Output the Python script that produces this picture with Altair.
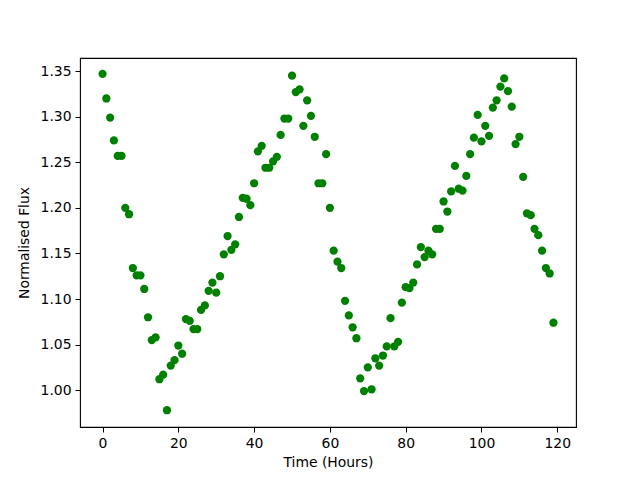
import altair as alt
import pandas as pd

hours = list(range(120))
flux = [
    1.347, 1.320, 1.299, 1.274, 1.257, 1.257, 1.200, 1.193, 1.134, 1.126,
    1.126, 1.111, 1.080, 1.055, 1.058, 1.012, 1.017, 0.978, 1.027, 1.033,
    1.049, 1.040, 1.078, 1.076, 1.067, 1.067, 1.088, 1.093, 1.109, 1.118,
    1.107, 1.125, 1.149, 1.169, 1.154, 1.160, 1.190, 1.211, 1.210, 1.203,
    1.227, 1.262, 1.268, 1.244, 1.244, 1.251, 1.256, 1.280, 1.298, 1.298,
    1.345, 1.327, 1.330, 1.290, 1.318, 1.301, 1.278, 1.227, 1.227, 1.259,
    1.200, 1.153, 1.141, 1.134, 1.098, 1.082, 1.069, 1.057, 1.013, 0.999,
    1.025, 1.001, 1.035, 1.027, 1.038, 1.048, 1.079, 1.048, 1.053, 1.096,
    1.113, 1.112, 1.118, 1.138, 1.157, 1.146, 1.153, 1.149, 1.177, 1.177,
    1.207, 1.196, 1.218, 1.246, 1.221, 1.219, 1.235, 1.259, 1.277, 1.302,
    1.273, 1.290, 1.279, 1.310, 1.318, 1.333, 1.342, 1.328, 1.311, 1.270,
    1.278, 1.234, 1.194, 1.192, 1.177, 1.170, 1.153, 1.134, 1.128, 1.074,
]
x_ticks = [0, 20, 40, 60, 80, 100, 120]
y_ticks = [1.00, 1.05, 1.10, 1.15, 1.20, 1.25, 1.30, 1.35]

df = pd.DataFrame({"Time": hours, "Flux": flux})

font = "DejaVu Sans"
axis_common = dict(
    grid=False,
    domain=False,
    tickColor="black",
    tickSize=5,
    tickWidth=1,
    labelColor="black",
    labelFont=font,
    labelFontSize=13.9,
    labelPadding=4,
    titleFont=font,
    titleFontSize=13.9,
    titleFontWeight="normal",
    titleColor="black",
)

chart = (
    alt.Chart(df)
    .mark_point(filled=True, shape="circle", size=68, color="#008000", opacity=1)
    .encode(
        x=alt.X(
            "Time:Q",
            scale=alt.Scale(domain=[-5.95, 124.95], nice=False, zero=False),
            axis=alt.Axis(title="Time (Hours)", values=x_ticks, format="d",
                          titlePadding=6, **axis_common),
        ),
        y=alt.Y(
            "Flux:Q",
            scale=alt.Scale(domain=[0.9596, 1.3644], nice=False, zero=False),
            axis=alt.Axis(title="Normalised Flux", values=y_ticks, format=".2f",
                          titlePadding=9, **axis_common),
        ),
    )
    .properties(
        width=496,
        height=369,
        background="white",
        autosize=alt.AutoSizeParams(type="none"),
        padding={"left": 72, "top": 50, "right": 56, "bottom": 45},
    )
    .configure_view(stroke="black", strokeWidth=1.1)
)

chart.save("out.html", embed_options={"renderer": "svg", "actions": False})
